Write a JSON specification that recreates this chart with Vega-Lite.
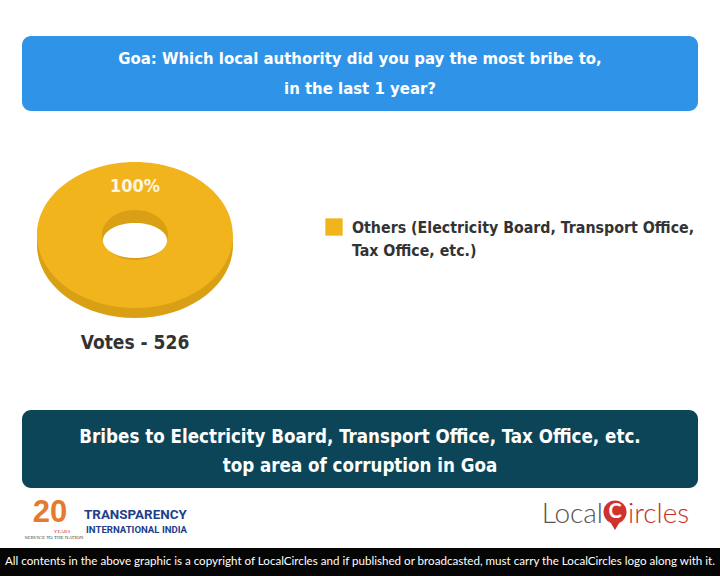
{
  "$schema": "https://vega.github.io/schema/vega-lite/v6.json",
  "padding": {"top": 36, "left": 0, "right": 0, "bottom": 0},
  "background": "white",
  "center": true,
  "spacing": 0,
  "config": {"view": {"stroke": null}, "font": "DejaVu Sans Condensed"},
  "data": {"values": [{"category": "Others (Electricity Board, Transport Office, Tax Office, etc.)", "votes": 526, "share": 100}]},
  "vconcat": [
    {
      "width": 676, "height": 75,
      "layer": [
        {"mark": {"type": "rect", "color": "#2f94e8", "cornerRadius": 9}, "encoding": {}},
        {"mark": {"type": "text", "text": ["Goa: Which local authority did you pay the most bribe to,", "in the last 1 year?"], "font": "DejaVu Sans Condensed", "fontWeight": "bold", "fontSize": 16.6, "lineHeight": 30, "color": "white", "baseline": "middle", "align": "center", "dy": -15}, "encoding": {}}
      ]
    },
    {
      "spacing": 0,
      "resolve": {"scale": {"color": "independent"}, "legend": {"color": "independent"}},
      "hconcat": [
        {
          "width": 270, "height": 248,
          "layer": [
            {"mark": {"type": "point", "filled": true, "opacity": 1, "size": 38416, "color": "#d9a016", "strokeWidth": 0,
              "shape": "M -1 0.102 A 1 0.745 0 1 0 1 0.102 A 1 0.745 0 1 0 -1 0.102 Z"}, "encoding": {}},
            {"mark": {"type": "point", "filled": true, "opacity": 1, "size": 38416, "strokeWidth": 0,
              "shape": "M -1 0 A 1 0.745 0 1 0 1 0 A 1 0.745 0 1 0 -1 0 Z M -0.337 0 A 0.337 0.255 0 1 1 0.337 0 A 0.337 0.255 0 1 1 -0.337 0 Z"},
             "encoding": {"color": {"field": "category", "type": "nominal", "scale": {"range": ["#f1b41c"]}, "legend": null}}},
            {"mark": {"type": "point", "filled": true, "opacity": 1, "size": 38416, "color": "white", "strokeWidth": 0,
              "shape": "M -0.327 0.056 A 0.327 0.179 0 1 0 0.327 0.056 A 0.327 0.179 0 1 0 -0.327 0.056 Z"}, "encoding": {}},
            {"transform": [{"calculate": "datum.share + '%'", "as": "pct"}],
             "mark": {"type": "text", "font": "DejaVu Sans Condensed", "fontWeight": "bold", "fontSize": 18, "color": "#fdf6e3", "dy": -48, "baseline": "middle"},
             "encoding": {"text": {"field": "pct"}}},
            {"transform": [{"calculate": "'Votes - ' + datum.votes", "as": "vlabel"}],
             "mark": {"type": "text", "font": "DejaVu Sans Condensed", "fontWeight": "bold", "fontSize": 19, "color": "#333333", "dy": 108, "baseline": "middle"},
             "encoding": {"text": {"field": "vlabel"}}}
          ]
        },
        {
          "width": 450, "height": 299,
          "mark": {"type": "rect", "opacity": 0},
          "encoding": {"color": {"field": "category", "type": "nominal", "scale": {"range": ["#f1b41c"]},
            "legend": {"title": null, "orient": "none", "legendX": 55, "legendY": 107, "symbolType": "square", "symbolSize": 300, "symbolStrokeWidth": 0, "symbolOpacity": 1, "symbolFillColor": "#f1b41c",
              "labelFont": "DejaVu Sans Condensed", "labelFontWeight": "bold", "labelFontSize": 15.8, "labelColor": "#333333", "labelLimit": 600, "labelOffset": 9, "labelBaseline": "alphabetic",
              "labelExpr": "split(replace(datum.label, 'Office, Tax', 'Office,|Tax'), '|')",
              "encode": {"labels": {"update": {"lineHeight": {"value": 23}, "dy": {"value": 6}}}}}}}
        }
      ]
    },
    {
      "width": 676, "height": 78,
      "layer": [
        {"mark": {"type": "rect", "color": "#0c4557", "cornerRadius": 9}, "encoding": {}},
        {"mark": {"type": "text", "text": ["Bribes to Electricity Board, Transport Office, Tax Office, etc.", "top area of corruption in Goa"], "font": "DejaVu Sans Condensed", "fontWeight": "bold", "fontSize": 18.6, "lineHeight": 29, "color": "white", "baseline": "middle", "align": "center", "dy": -12}, "encoding": {}}
      ]
    },
    {
      "width": 720, "height": 60,
      "layer": [
        {"mark": {"type": "text", "text": "20", "font": "Liberation Sans", "fontWeight": "bold", "fontSize": 31, "color": "#e5792c", "dx": -310, "dy": -5, "align": "center", "baseline": "middle"}, "encoding": {}},
        {"mark": {"type": "text", "text": "YEARS", "font": "Liberation Serif", "fontSize": 5, "color": "#c0392b", "dx": -298, "dy": 13, "align": "center", "baseline": "middle"}, "encoding": {}},
        {"mark": {"type": "text", "text": "SERVICE TO THE NATION", "font": "Liberation Serif", "fontSize": 5, "color": "#444444", "dx": -306, "dy": 19, "align": "center", "baseline": "middle"}, "encoding": {}},
        {"mark": {"type": "text", "text": "TRANSPARENCY", "font": "Roboto", "fontWeight": "bold", "fontSize": 13.4, "color": "#1e3e8c", "dx": -276, "dy": -3, "align": "left", "baseline": "middle"}, "encoding": {}},
        {"mark": {"type": "text", "text": "INTERNATIONAL INDIA", "font": "Roboto", "fontWeight": "bold", "fontSize": 9.6, "color": "#1e3e8c", "dx": -274, "dy": 12, "align": "left", "baseline": "middle"}, "encoding": {}},
        {"mark": {"type": "text", "text": "Local", "font": "Lato", "fontWeight": 300, "fontSize": 28, "color": "#555555", "dx": 243, "dy": 5, "align": "right", "baseline": "alphabetic"}, "encoding": {}},
        {"mark": {"type": "point", "shape": "triangle-down", "filled": true, "opacity": 1, "size": 90, "color": "#c8302b", "xOffset": 255, "yOffset": 8}, "encoding": {}},
        {"mark": {"type": "point", "shape": "circle", "filled": true, "opacity": 1, "size": 530, "color": "#d2322d", "xOffset": 255, "yOffset": -6}, "encoding": {}},
        {"mark": {"type": "text", "text": "C", "font": "Lato", "fontWeight": "bold", "fontSize": 20, "color": "white", "dx": 255, "dy": -6, "align": "center", "baseline": "middle"}, "encoding": {}},
        {"mark": {"type": "text", "text": "ircles", "font": "Lato", "fontWeight": 300, "fontSize": 28, "color": "#c8302b", "dx": 268, "dy": 5, "align": "left", "baseline": "alphabetic"}, "encoding": {}}
      ]
    },
    {
      "width": 720, "height": 28,
      "layer": [
        {"mark": {"type": "rect", "color": "#050505"}, "encoding": {}},
        {"mark": {"type": "text", "text": "All contents in the above graphic is a copyright of LocalCircles and if published or broadcasted, must carry the LocalCircles logo along with it.", "font": "Lato", "fontSize": 11.6, "color": "white", "align": "center", "baseline": "middle"}, "encoding": {}}
      ]
    }
  ]
}
